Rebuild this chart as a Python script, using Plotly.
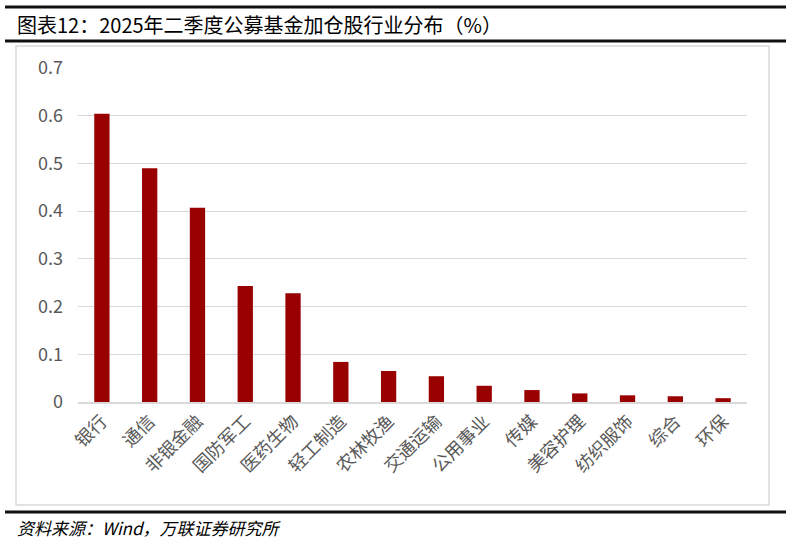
import plotly.graph_objects as go

# 行业与加仓比例（%）
industries = ["银行", "通信", "非银金融", "国防军工", "医药生物", "轻工制造", "农林牧渔",
              "交通运输", "公用事业", "传媒", "美容护理", "纺织服饰", "综合", "环保"]
values = [0.604, 0.490, 0.407, 0.243, 0.228, 0.084, 0.065,
          0.054, 0.034, 0.025, 0.018, 0.014, 0.012, 0.008]

y_ticks = [0, 0.1, 0.2, 0.3, 0.4, 0.5, 0.6, 0.7]
y_labels = ["0", "0.1", "0.2", "0.3", "0.4", "0.5", "0.6", "0.7"]

W, H = 790, 544
ML, MR, MT, MB = 78, 43, 68, 142
PW, PH = W - ML - MR, H - MT - MB


def px(x):
    return (x - ML) / PW


def py(y):
    return (H - MB - y) / PH


fig = go.Figure(go.Bar(
    x=industries, y=values,
    marker=dict(color="#990000", line=dict(width=0)),
    width=0.32,
))

fig.update_layout(
    width=W, height=H,
    margin=dict(l=ML, r=MR, t=MT, b=MB, autoexpand=False),
    paper_bgcolor="white", plot_bgcolor="white",
    showlegend=False,
    font=dict(family="Noto Sans CJK SC", color="#595959"),
)
fig.update_xaxes(
    tickangle=-45, tickfont=dict(size=18, color="#595959"),
    showline=True, linecolor="#d9d9d9", linewidth=1.5,
    ticks="", showgrid=False, automargin=False,
)
fig.update_yaxes(
    range=[0, 0.7], tickvals=y_ticks, ticktext=y_labels,
    tickfont=dict(size=18, color="#595959"),
    showgrid=True, gridcolor="#d9d9d9", gridwidth=1,
    zeroline=False, showline=False, ticks="", ticklabelstandoff=14,
    automargin=False,
)

# 外框与分隔线
fig.add_shape(type="rect", xref="paper", yref="paper",
              x0=px(16), x1=px(769), y0=py(505), y1=py(46),
              line=dict(color="#d9d9d9", width=1.5), layer="below")
for yy in (7, 41, 512):
    fig.add_shape(type="line", xref="paper", yref="paper",
                  x0=px(5), x1=px(786), y0=py(yy), y1=py(yy),
                  line=dict(color="#111111", width=3))

fig.add_annotation(text="图表12：2025年二季度公募基金加仓股行业分布（%）",
                   xref="paper", yref="paper", x=px(15), y=py(24),
                   xanchor="left", yanchor="middle", showarrow=False,
                   font=dict(size=20, color="black", family="Noto Sans CJK SC"))
fig.add_annotation(text="<i>资料来源：Wind，万联证券研究所</i>",
                   xref="paper", yref="paper", x=px(15), y=py(527),
                   xanchor="left", yanchor="middle", showarrow=False,
                   font=dict(size=17, color="black", family="Noto Sans CJK SC"))

fig.write_html("out.html", config={"displayModeBar": False},
               post_script="document.body.style.margin='0';")
